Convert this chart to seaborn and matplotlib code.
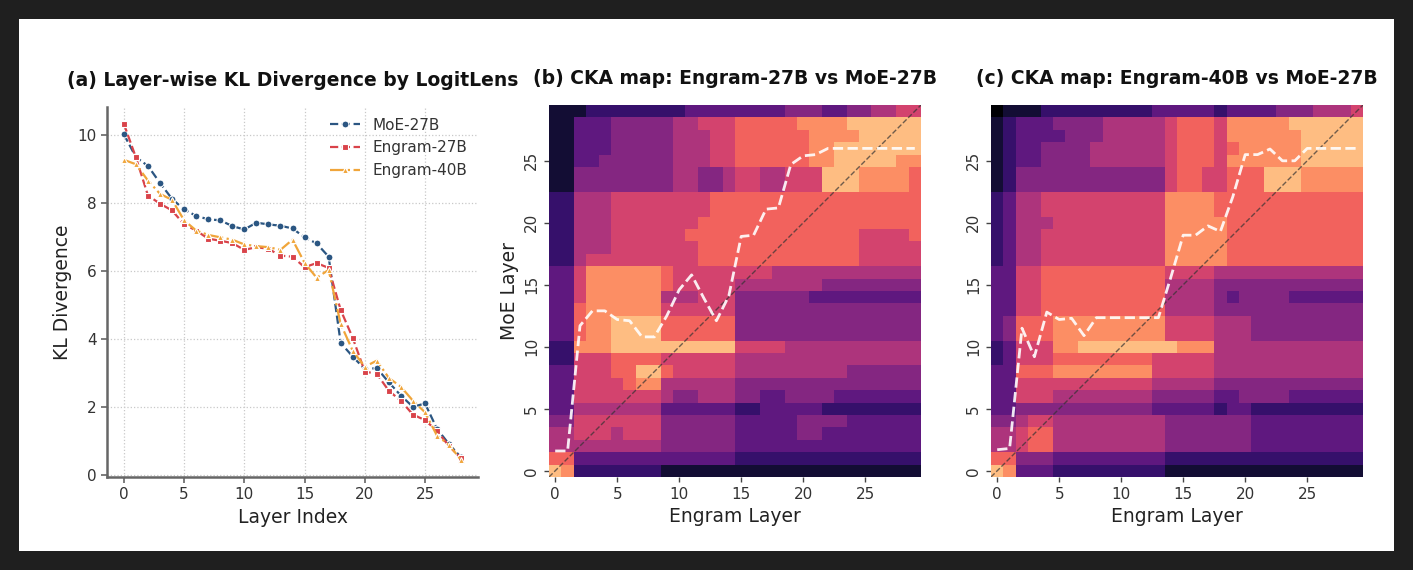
import numpy as np
import matplotlib.pyplot as plt
import seaborn as sns
from matplotlib.patches import Rectangle

# --- data ---
layers = list(range(29))
kl_moe_27b = [10.03, 9.36, 9.10, 8.60, 8.13, 7.82, 7.63, 7.53, 7.50, 7.33,
              7.23, 7.43, 7.38, 7.34, 7.26, 7.00, 6.82, 6.43, 3.89, 3.49,
              3.12, 3.15, 2.73, 2.34, 2.01, 2.11, 1.36, 0.91, 0.52]
kl_engram_27b = [10.34, 9.35, 8.23, 7.99, 7.79, 7.38, 7.20, 6.96, 6.90, 6.83,
                 6.63, 6.71, 6.66, 6.46, 6.43, 6.12, 6.24, 6.10, 4.86, 4.04,
                 3.05, 2.98, 2.48, 2.19, 1.78, 1.62, 1.30, 0.85, 0.50]
kl_engram_40b = [9.28, 9.15, 8.67, 8.28, 8.10, 7.50, 7.20, 7.07, 7.00, 6.93,
                 6.79, 6.74, 6.71, 6.63, 6.93, 6.25, 5.81, 6.04, 4.45, 3.66,
                 3.19, 3.37, 2.86, 2.60, 2.19, 1.85, 1.16, 0.89, 0.44]

cka_layers = list(range(30))
best_match_27b = [1.6, 1.6, 11.7, 12.9, 12.9, 12.2, 12.1, 10.8, 10.8, 12.5,
                  14.6, 15.8, 13.9, 12.1, 14.1, 18.9, 19.0, 21.1, 21.2, 24.7,
                  25.4, 25.5, 26.0, 26.0, 26.0, 26.0, 26.0, 26.0, 26.0, 26.0]
best_match_40b = [1.7, 1.8, 11.5, 9.2, 12.8, 12.2, 12.3, 10.9, 12.35, 12.35,
                  12.35, 12.35, 12.35, 12.35, 15.6, 19.0, 19.0, 19.75, 19.3, 22.1,
                  25.5, 25.5, 25.95, 25.0, 25.0, 26.0, 26.0, 26.0, 26.0, 26.0]

# CKA maps as colour levels 0 (dark) .. 9 (bright); first string = MoE layer 29
cka_27b_rows = [
    "1112222222" "2333333334" "4433445566",
    "1133344444" "5566677777" "8888999999",
    "1133344444" "5556677777" "7888899999",
    "1133344444" "5556677777" "7889999999",
    "1133444444" "5556677777" "7889999988",
    "1144444444" "5544566556" "6699988887",
    "1144444444" "5544566556" "6699988887",
    "2255566666" "6667777777" "7777777777",
    "2255566666" "6667777777" "7777777777",
    "2255566666" "6677777777" "7777777777",
    "2255566666" "6777777777" "7777766667",
    "2255566666" "6677777777" "7777766666",
    "2256666666" "6677777777" "7777766666",
    "3368888887" "6666666655" "5555555555",
    "3368888887" "6666655555" "5544444444",
    "3368888885" "5566644444" "4333333333",
    "3378888886" "6666644444" "4444444444",
    "3378899997" "7777744444" "4444444444",
    "3378899997" "7777744444" "4444444444",
    "2288899999" "9999966665" "5555555555",
    "2266677776" "6666655555" "5555555555",
    "3366677997" "6666655555" "5555444444",
    "3366667885" "5555544444" "4444444444",
    "3366666665" "4455544334" "4443333333",
    "3355555553" "3333322333" "3322222222",
    "4466666664" "4444433333" "4444333333",
    "5566656664" "4444433333" "4433333333",
    "5555555554" "4444433333" "3333333333",
    "7733333333" "3333322222" "2222222222",
    "9822222221" "1111111111" "1111111111",
]
cka_40b_rows = [
    "0111222222" "2223333323" "3334445556",
    "1233344445" "5555677768" "8888999999",
    "1233334445" "5555677768" "8888899999",
    "1233444455" "5555677767" "8888899999",
    "1233444455" "5555677768" "8888899999",
    "1244444444" "4444677667" "7799988888",
    "1244444444" "4444677667" "7799988888",
    "2355666666" "6666888877" "7777777777",
    "2355666666" "6666888877" "7777777777",
    "2355566666" "6666888887" "7777777777",
    "2355666666" "6666888887" "7777777777",
    "2355666666" "6666888887" "7777777777",
    "2355666666" "6666888887" "7777777777",
    "3366777777" "7777666655" "5555555555",
    "3366777777" "7777555544" "4444444444",
    "3366777777" "7777555543" "4444333333",
    "3366777777" "7777555544" "4444444444",
    "3477788888" "8888666655" "5444444444",
    "3477788888" "8888666655" "5444444444",
    "2366688999" "9999988855" "5555555555",
    "2366677777" "7776666655" "5555555555",
    "3377788888" "8886666655" "5555555555",
    "3366666666" "6665555544" "4444444444",
    "3366655555" "5554444433" "4444333333",
    "3344444444" "4443333323" "3222222222",
    "4456655555" "5555444444" "4333333333",
    "5567755555" "5555444444" "4333333333",
    "5567755555" "5555444444" "4333333333",
    "7744433333" "3333222222" "2222222222",
    "9833322222" "2222111111" "1111111111",
]

series_colors = {"MoE-27B": "#2b5682", "Engram-27B": "#d9434a", "Engram-40B": "#f0a53a"}


def levels_to_matrix(rows):
    # row index = MoE layer (bottom to top)
    return np.array([[int(ch) for ch in row] for row in rows])[::-1]


sns.set_theme(style="ticks")
plt.rcParams["font.family"] = ["DejaVu Sans"]
plt.rcParams["xtick.labelsize"] = 11
plt.rcParams["ytick.labelsize"] = 11
plt.rcParams["xtick.color"] = "#333333"
plt.rcParams["ytick.color"] = "#333333"

W, H = 1413, 570
fig = plt.figure(figsize=(W / 100, H / 100), dpi=100)
fig.patch.set_facecolor("#1f1f1f")
fig.add_artist(Rectangle((19 / W, 19 / H), 1375 / W, 532 / H, transform=fig.transFigure,
                         facecolor="white", edgecolor="none", zorder=-10))


def px_axes(left, top, right, bottom):
    return fig.add_axes([left / W, 1 - bottom / H, (right - left) / W, (bottom - top) / H])


# --- (a) KL divergence ---
ax_a = px_axes(107, 107, 478, 477)
sns.lineplot(x=layers, y=kl_moe_27b, ax=ax_a, color=series_colors["MoE-27B"], marker="o",
             linestyle="--", linewidth=1.6, markersize=5, markeredgecolor="white",
             markeredgewidth=0.8, label="MoE-27B")
sns.lineplot(x=layers, y=kl_engram_27b, ax=ax_a, color=series_colors["Engram-27B"], marker="s",
             linestyle="--", linewidth=1.6, markersize=5, markeredgecolor="white",
             markeredgewidth=0.8, label="Engram-27B")
sns.lineplot(x=layers, y=kl_engram_40b, ax=ax_a, color=series_colors["Engram-40B"], marker="^",
             linestyle="-.", linewidth=1.6, markersize=5, markeredgecolor="white",
             markeredgewidth=0.8, label="Engram-40B")
ax_a.set_xticks([0, 5, 10, 15, 20, 25])
ax_a.set_yticks([0, 2, 4, 6, 8, 10])
ax_a.grid(True, linestyle=":", color="#c8c8c8", linewidth=0.9)
sns.despine(ax=ax_a)
for side in ["left", "bottom"]:
    ax_a.spines[side].set_color("#666666")
    ax_a.spines[side].set_linewidth(1.8)
ax_a.tick_params(length=4, width=1.2, color="#666666")
ax_a.set_xlabel("Layer Index", fontsize=13.5, color="#222222")
ax_a.set_ylabel("KL Divergence", fontsize=13.5, color="#222222")
ax_a.set_title("(a) Layer-wise KL Divergence by LogitLens", fontsize=13.5,
               fontweight="bold", pad=15, color="#111111")
ax_a.legend(loc="upper right", frameon=False, fontsize=11, handlelength=2.0,
            labelcolor="#333333", borderaxespad=0.3)

# --- (b), (c) CKA maps ---
panels = [
    (549, 921, cka_27b_rows, best_match_27b, "(b) CKA map: Engram-27B vs MoE-27B", True),
    (991, 1363, cka_40b_rows, best_match_40b, "(c) CKA map: Engram-40B vs MoE-27B", False),
]
for left, right, rows, match, title, show_ylabel in panels:
    ax = px_axes(left, 105, right, 477)
    sns.heatmap(levels_to_matrix(rows), ax=ax, cmap="magma", vmin=0, vmax=10.47,
                cbar=False, xticklabels=False, yticklabels=False)
    ax.invert_yaxis()
    ax.plot([0, 30], [0, 30], linestyle="--", color="#333333", linewidth=1.0, alpha=0.7)
    ax.plot(np.array(cka_layers) + 0.5, np.array(match) + 0.5, linestyle="--",
            color="white", linewidth=2.0, alpha=0.9)
    ticks = np.arange(0, 30, 5)
    ax.set_xticks(ticks + 0.5)
    ax.set_xticklabels([str(t) for t in ticks], rotation=0)
    ax.set_yticks(ticks + 0.5)
    ax.set_yticklabels([str(t) for t in ticks], rotation=90, va="center")
    ax.tick_params(length=3.5, width=1, color="#444444")
    ax.set_xlim(0, 30)
    ax.set_ylim(0, 30)
    ax.set_xlabel("Engram Layer", fontsize=13.5, color="#222222")
    if show_ylabel:
        ax.set_ylabel("MoE Layer", fontsize=13.5, color="#222222")
    ax.set_title(title, fontsize=13.5, fontweight="bold", pad=15, color="#111111")

fig.savefig("out.png", dpi=100, facecolor=fig.get_facecolor())
